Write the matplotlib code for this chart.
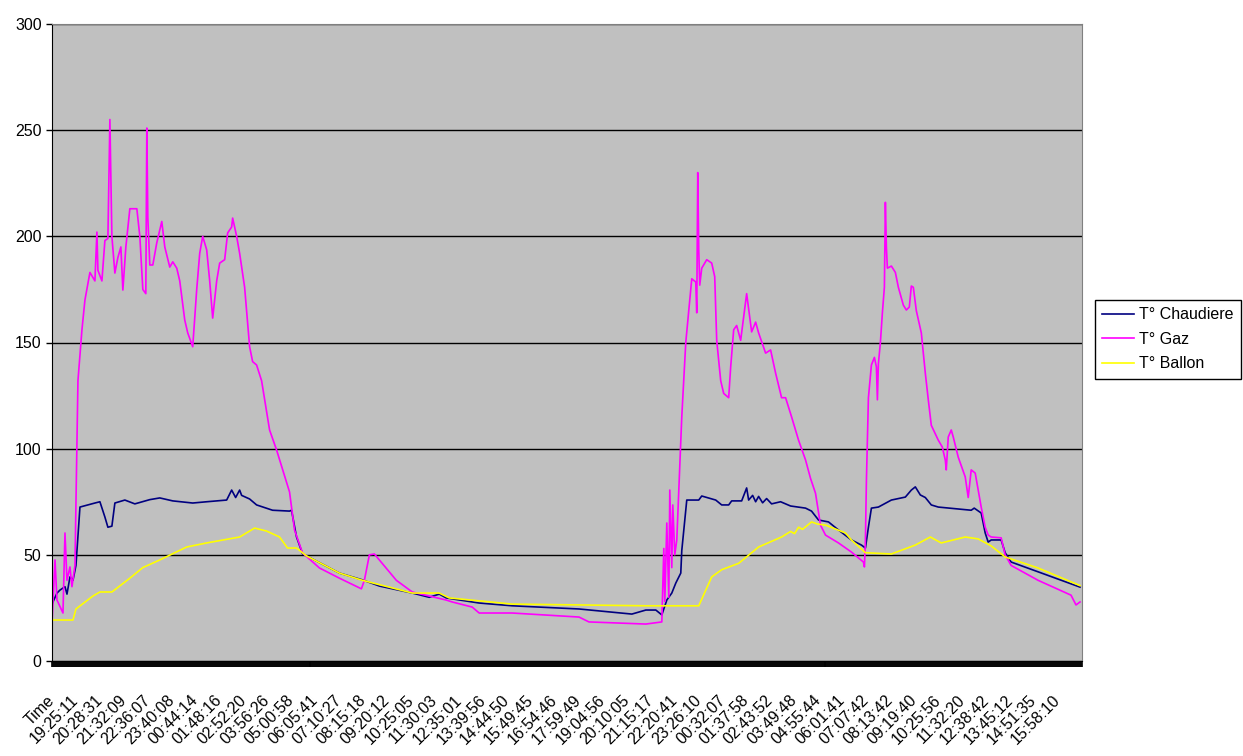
import numpy as np
import matplotlib.pyplot as plt
from matplotlib.ticker import MultipleLocator

plt.rcParams['font.family'] = ['Liberation Sans', 'DejaVu Sans']

# one label every 24 samples
label_step = 24
time_labels = ['Time', '19:25:11', '20:28:31', '21:32:09', '22:36:07', '23:40:08',
               '00:44:14', '01:48:16', '02:52:20', '03:56:26', '05:00:58', '06:05:41',
               '07:10:27', '08:15:18', '09:20:12', '10:25:05', '11:30:03', '12:35:01',
               '13:39:56', '14:44:50', '15:49:45', '16:54:46', '17:59:49', '19:04:56',
               '20:10:05', '21:15:17', '22:20:41', '23:26:10', '00:32:07', '01:37:58',
               '02:43:52', '03:49:48', '04:55:44', '06:01:41', '07:07:42', '08:13:42',
               '09:19:40', '10:25:56', '11:32:20', '12:38:42', '13:45:12', '14:51:35',
               '15:58:10']

# (sample, temperature)
chaudiere = [(0, 26.8), (5, 32), (8, 33.4), (13, 35), (15, 31.5), (18, 39.6), (21, 38),
             (24, 45), (28, 72.5), (43, 74.4), (48, 75), (53, 67.8), (56, 63), (60, 63.5),
             (63, 74.4), (73, 75.8), (83, 74), (98, 76), (108, 76.8), (121, 75.4),
             (141, 74.4), (155, 75), (175, 75.8), (180, 80.5), (184, 77), (188, 80.5),
             (190, 78), (198, 76.3), (205, 73.5), (221, 71), (238, 70.6), (240, 71),
             (245, 58.4), (251, 50.5), (255, 49.5), (288, 41.4), (311, 38.2), (328, 35.3),
             (361, 32), (378, 30), (388, 31.5), (395, 29.7), (428, 27.3), (461, 26),
             (528, 24.5), (581, 22.1), (595, 24), (605, 24), (611, 21.7), (616, 28.7),
             (621, 32), (625, 36.7), (630, 41.4), (631, 52), (636, 75.8), (648, 75.8),
             (651, 77.7), (665, 75.8), (671, 73.5), (678, 73.5), (681, 75.4), (691, 75.4),
             (696, 81.5), (698, 75.8), (702, 78), (705, 75), (708, 77.5), (712, 74.5),
             (716, 76.5), (721, 74), (730, 75), (740, 73), (755, 72), (761, 70.6),
             (768, 66.4), (778, 65.5), (788, 61.7), (801, 57), (811, 54.6), (815, 53.2),
             (818, 63), (821, 72), (828, 72.5), (841, 75.8), (855, 77.2), (861, 80.5),
             (865, 82), (870, 78.2), (875, 77), (881, 73.5), (888, 72.5), (921, 71),
             (924, 72), (931, 69.7), (935, 60.3), (938, 56), (941, 57), (951, 57),
             (955, 51), (961, 46.6), (988, 42), (1030, 34.8)]

gaz = [(0, 18), (3, 47.6), (5, 28.7), (11, 22.6), (13, 60.3), (15, 38), (18, 44.3),
       (20, 35), (23, 45), (26, 132), (30, 156), (33, 170), (38, 183), (43, 179),
       (45, 202), (46, 184), (50, 179), (53, 198), (56, 199), (58, 255), (60, 200),
       (63, 182.7), (66, 190), (69, 195), (71, 174.7), (74, 195), (78, 213), (85, 213),
       (88, 200), (91, 175), (94, 173), (95, 251), (96, 209), (98, 186.5), (101, 186.5),
       (105, 197), (110, 207), (113, 195), (118, 185.5), (121, 188), (125, 185),
       (128, 179), (133, 160.6), (136, 154.5), (141, 148), (145, 175), (148, 192),
       (151, 200), (155, 193.6), (158, 179), (161, 161.5), (165, 179), (168, 187.4),
       (173, 189), (176, 201.6), (180, 204.4), (181, 208.6), (185, 200), (188, 192),
       (193, 176), (198, 148), (201, 141), (205, 139.4), (210, 132), (218, 108.8),
       (225, 99.4), (238, 79.6), (243, 61.7), (251, 50.9), (268, 43.8), (288, 39),
       (310, 34), (313, 38), (318, 50), (323, 50.4), (328, 47.6), (345, 38),
       (361, 32.5), (378, 30.6), (395, 28.7), (401, 27.8), (421, 25.4), (428, 22.6),
       (461, 22.6), (528, 20.7), (538, 18.4), (595, 17.4), (611, 18.4), (613, 53),
       (614, 28), (616, 65), (618, 30), (619, 80.5), (621, 44), (622, 73.5), (624, 50),
       (626, 57), (630, 104), (631, 115), (635, 150), (638, 165), (641, 180),
       (645, 178.5), (646, 164), (647, 230), (648, 193.6), (649, 177), (651, 185),
       (656, 189), (661, 187.4), (664, 181), (666, 151), (670, 132), (673, 126),
       (678, 124), (680, 138.5), (683, 156), (686, 158), (690, 151), (693, 162),
       (696, 173), (699, 162), (701, 155), (705, 159.6), (708, 154.5), (715, 145),
       (720, 146.5), (725, 135.6), (731, 124), (735, 124), (741, 115), (748, 104),
       (755, 94.7), (760, 86), (765, 79), (770, 64), (775, 59.3), (788, 55.6),
       (801, 51.3), (813, 46.6), (814, 44.3), (815, 57), (816, 85), (818, 124),
       (821, 139.4), (824, 143), (826, 138.5), (827, 123), (828, 140), (830, 150),
       (832, 164), (834, 176), (835, 216), (836, 195), (837, 185), (841, 186),
       (845, 183), (848, 176), (853, 167.6), (856, 165.3), (859, 166.7), (861, 176.6),
       (863, 176), (866, 165), (871, 154.5), (875, 135.6), (878, 123), (881, 111),
       (888, 104), (892, 100.8), (895, 94.7), (896, 90), (898, 105.5), (901, 108.8),
       (903, 105.5), (908, 96), (915, 86.7), (918, 77), (921, 90), (925, 88.5),
       (931, 72.5), (935, 63), (938, 59.3), (941, 58.4), (951, 58), (955, 50),
       (961, 45), (988, 38), (1021, 31), (1026, 26.4), (1030, 27.8)]

ballon = [(0, 19.3), (21, 19.3), (24, 24.5), (41, 30.6), (48, 32.5), (60, 32.5),
          (78, 39), (91, 44), (108, 47.6), (135, 53.7), (155, 55.6), (188, 58.4),
          (203, 62.6), (215, 61.2), (228, 58.4), (236, 53.2), (245, 53.2), (255, 49.5),
          (288, 41.4), (311, 38), (361, 32), (388, 32), (398, 29.7), (461, 26.8),
          (595, 26), (648, 26), (661, 39.6), (671, 43), (688, 46), (708, 53.7),
          (731, 58.4), (740, 61), (744, 60), (748, 63), (752, 62), (761, 65.5),
          (767, 64.5), (775, 64), (795, 60.3), (801, 57), (815, 51), (841, 50.4),
          (865, 54.6), (880, 58.4), (891, 55.6), (915, 58.4), (928, 57.5), (941, 54.2),
          (955, 49), (988, 43.8), (1030, 35.5)]

fig = plt.figure(figsize=(12.43, 7.56), dpi=100)
ax = fig.add_axes([52 / 1243, 95 / 756, 1030 / 1243, 637 / 756])
ax.set_facecolor('#c0c0c0')

for data, col, name in [(chaudiere, '#000080', 'T° Chaudiere'),
                        (gaz, '#ff00ff', 'T° Gaz'),
                        (ballon, '#ffff00', 'T° Ballon')]:
    arr = np.array(data)
    ax.plot(arr[:, 0], arr[:, 1], color=col, lw=1.2, label=name)

ax.set_xlim(0, 1032)
ax.set_ylim(0, 300)
ax.set_yticks(range(0, 301, 50))
ax.yaxis.grid(True, color='black', lw=1)
ax.set_axisbelow(True)

ax.set_xticks(np.arange(len(time_labels)) * label_step)
ax.set_xticklabels(time_labels, rotation=45, ha='right', va='center',
                   rotation_mode='anchor')
ax.xaxis.set_minor_locator(MultipleLocator(1))
ax.tick_params(axis='x', which='both', length=4.5, width=1.2, color='black',
               pad=22, labelsize=11.5)
ax.tick_params(axis='y', length=4, width=1, labelsize=11.5)

ax.spines['left'].set_color('black')
ax.spines['bottom'].set_color('black')
ax.spines['right'].set_color('#808080')
ax.spines['top'].set_color('#808080')

ax.legend(loc='upper left', bbox_to_anchor=(1095 / 1243, 1 - 300 / 756),
          bbox_transform=fig.transFigure, fancybox=False, edgecolor='black',
          framealpha=1, borderaxespad=0, handlelength=2.0, fontsize=11.5,
          borderpad=0.45, labelspacing=0.6, handletextpad=0.3)

fig.savefig('out.png', dpi=100)
